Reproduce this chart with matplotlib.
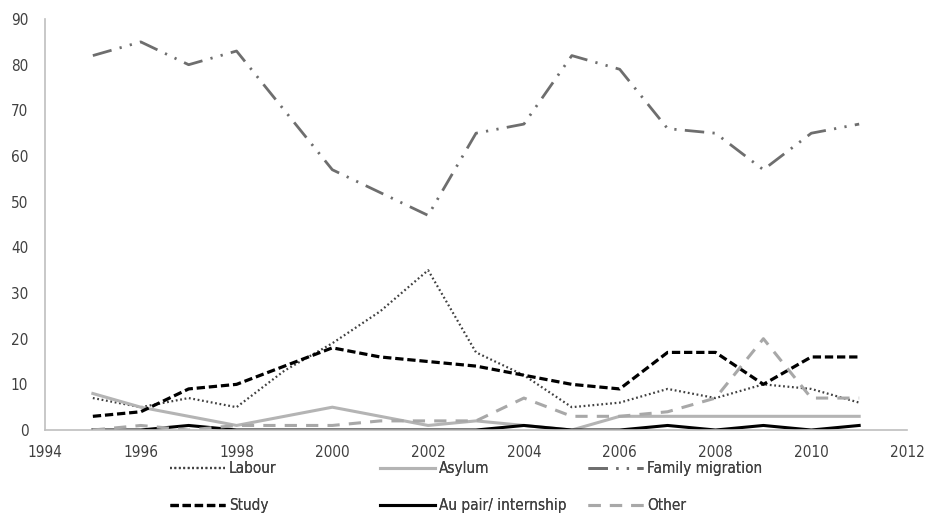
import numpy as np
import matplotlib.pyplot as plt

years = list(range(1995, 2012))

labour = [7, 5, 7, 5, 13, 19, 26, 35, 17, 12, 5, 6, 9, 7, 10, 9, 6]
asylum = [8, 5, 3, 1, 3, 5, 3, 1, 2, 1, 0, 3, 3, 3, 3, 3, 3]
family = [82, 85, 80, 83, 70, 57, 52, 47, 65, 67, 82, 79, 66, 65, 57, 65, 67]
study = [3, 4, 9, 10, 14, 18, 16, 15, 14, 12, 10, 9, 17, 17, 10, 16, 16]
au_pair = [0, 0, 1, 0, 0, 0, 0, 0, 0, 1, 0, 0, 1, 0, 1, 0, 1]
other = [0, 1, 0, 1, 1, 1, 2, 2, 2, 7, 3, 3, 4, 7, 20, 7, 7]

plt.rcParams['font.family'] = ['DejaVu Sans']
plt.rcParams['font.stretch'] = 'condensed'

fig = plt.figure(figsize=(9.27, 5.15), dpi=100)
ax = fig.add_axes([0.0485, 0.165, 0.93, 0.798])

l1, = ax.plot(years, labour, color='#404040', lw=1.6, linestyle=(0, (0.8, 1.2)), label='Labour')
l2, = ax.plot(years, asylum, color='#b4b4b4', lw=2.2, label='Asylum')
l3, = ax.plot(years, family, color='#6e6e6e', lw=2.0,
              linestyle=(0, (7, 3, 0.8, 3, 0.8, 3)), label='Family migration')
l4, = ax.plot(years, study, color='black', lw=2.3, linestyle=(0, (2.6, 1.2)), label='Study')
l5, = ax.plot(years, au_pair, color='black', lw=2.2, label='Au pair/ internship')
l6, = ax.plot(years, other, color='#a8a8a8', lw=2.2, linestyle=(0, (4, 3)), label='Other')

ax.set_xlim(1994, 2012)
ax.set_ylim(0, 90)
ax.set_xticks(range(1994, 2013, 2))
ax.set_yticks(range(0, 91, 10))
ax.tick_params(length=0, labelsize=11, colors='#404040')
ax.tick_params(axis='x', pad=11)
ax.tick_params(axis='y', pad=12)

for side in ['top', 'right']:
    ax.spines[side].set_visible(False)
for side in ['left', 'bottom']:
    ax.spines[side].set_color('#bfbfbf')
    ax.spines[side].set_linewidth(1.2)

# one legend per column so each column sits where it should
W, H = 927.0, 515.0
columns = [((l1, l4), 170), ((l2, l5), 380), ((l3, l6), 588)]
for handles, x0 in columns:
    leg = fig.legend(handles=list(handles), loc='upper left',
                     bbox_to_anchor=(x0 / W, 1 - 461 / H), ncol=1, frameon=False,
                     fontsize=11, handlelength=3.6, handletextpad=0.25,
                     borderpad=0, borderaxespad=0, labelspacing=1.45,
                     labelcolor='#404040')
    fig.add_artist(leg)

fig.savefig('out.png', dpi=100)
